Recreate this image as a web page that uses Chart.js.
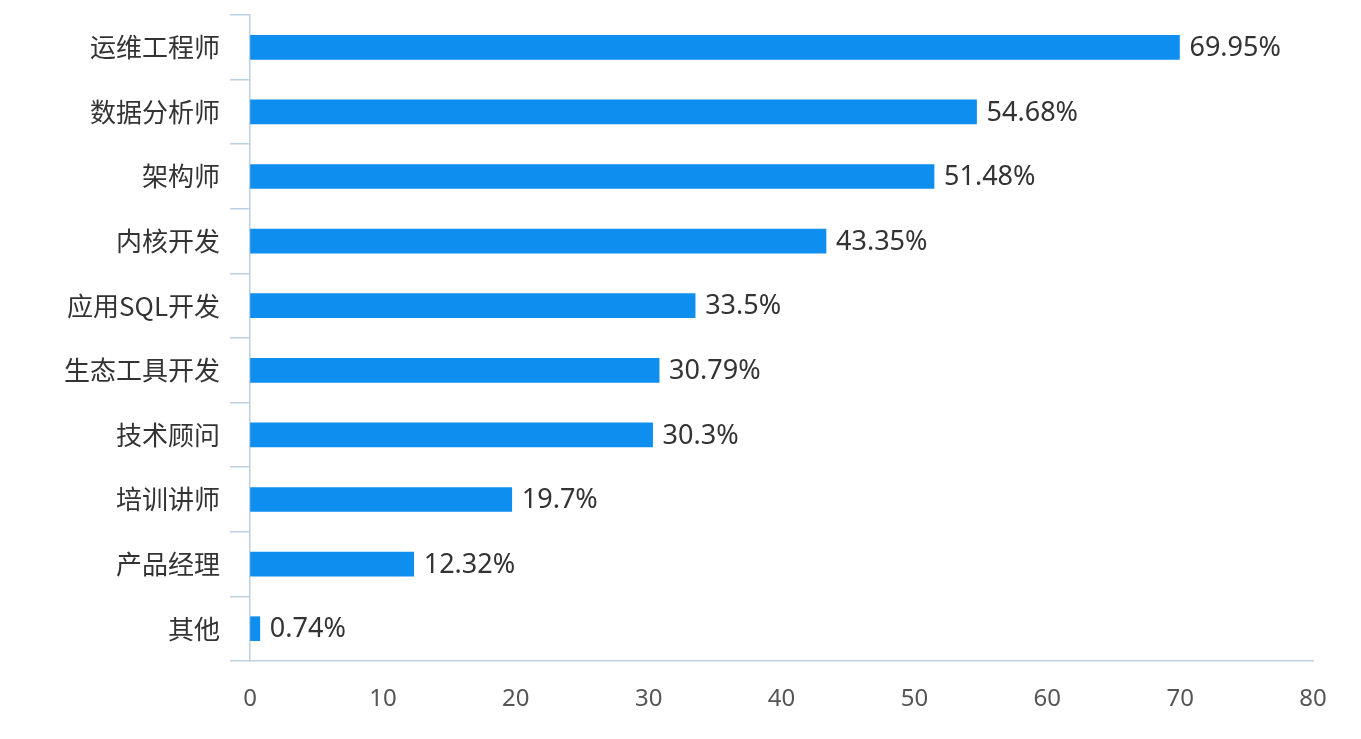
<!DOCTYPE html>
<html>
<head>
<meta charset="utf-8">
<script src="https://cdn.jsdelivr.net/npm/chart.js@4/dist/chart.umd.min.js"></script>
<style>
html,body{margin:0;padding:0;background:#fff;}
#wrap{position:relative;width:1361px;height:739px;}
</style>
</head>
<body>
<div id="wrap"><canvas id="c" width="1361" height="739"></canvas></div>
<script>
const categories = ['运维工程师','数据分析师','架构师','内核开发','应用SQL开发','生态工具开发','技术顾问','培训讲师','产品经理','其他'];
const values = [69.95, 54.68, 51.48, 43.35, 33.5, 30.79, 30.3, 19.7, 12.32, 0.74];
const xTicks = [0,10,20,30,40,50,60,70,80];

const axisColor = '#bcd0e2';
const barColor = '#0e8ff0';
const textColor = '#333333';

const valueLabels = {
  id: 'valueLabels',
  afterDatasetsDraw(chart) {
    const ctx = chart.ctx;
    const meta = chart.getDatasetMeta(0);
    ctx.save();
    ctx.font = '27px "Noto Sans", "DejaVu Sans", sans-serif';
    ctx.fillStyle = textColor;
    ctx.textAlign = 'left';
    ctx.textBaseline = 'middle';
    meta.data.forEach((bar, i) => {
      ctx.fillText(values[i] + '%', bar.x + 10, bar.y + 1);
    });
    ctx.restore();
  }
};

new Chart(document.getElementById('c'), {
  type: 'bar',
  data: {
    labels: categories,
    datasets: [{
      data: values,
      backgroundColor: barColor,
      barThickness: 24,
      borderWidth: 0
    }]
  },
  options: {
    indexAxis: 'y',
    responsive: false,
    animation: false,
    layout: { padding: { top: 15, right: 48, left: 0, bottom: 0 } },
    plugins: { legend: { display: false }, tooltip: { enabled: false } },
    scales: {
      x: {
        min: 0, max: 80,
        afterBuildTicks(scale) { scale.ticks = xTicks.map(v => ({ value: v })); },
        afterFit(scale) { scale.height = 78; scale.paddingLeft = 0; scale.paddingRight = 0; },
        grid: { display: true, drawOnChartArea: false, drawTicks: false, color: axisColor },
        border: { display: true, color: axisColor, width: 1.5 },
        ticks: {
          padding: 24,
          color: '#555555',
          maxRotation: 0,
          font: { size: 24, family: '"Noto Sans", "DejaVu Sans", sans-serif' }
        }
      },
      y: {
        afterFit(scale) { scale.width = 250; scale.paddingTop = 0; scale.paddingBottom = 0; },
        grid: { display: true, drawOnChartArea: false, drawTicks: true, tickLength: 20, offset: true, color: axisColor, lineWidth: 1.5 },
        border: { display: true, color: axisColor, width: 1.5 },
        ticks: {
          padding: 10,
          color: textColor,
          font: { size: 26, family: '"Noto Sans CJK SC", "Noto Sans", sans-serif' }
        }
      }
    }
  },
  plugins: [valueLabels]
});
</script>
</body>
</html>
